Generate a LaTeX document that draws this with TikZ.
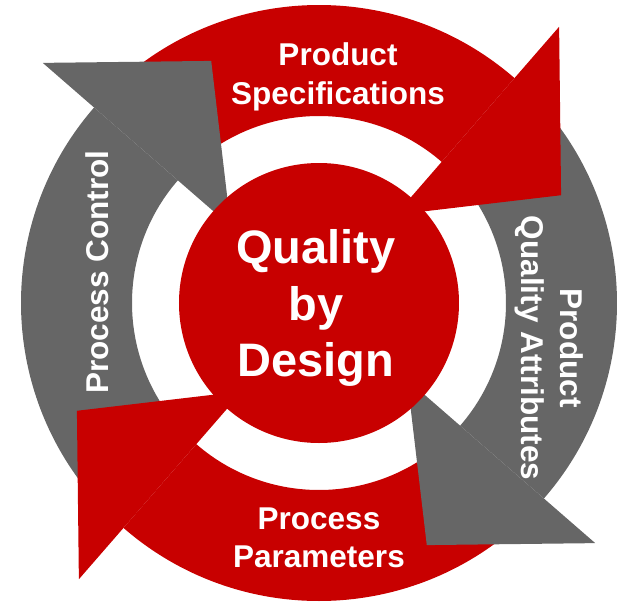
\documentclass[tikz,border=0pt]{standalone}
\usepackage{fontspec}
\setmainfont{Liberation Sans}
\definecolor{qbdred}{RGB}{200,0,0}
\definecolor{qbdgray}{RGB}{102,102,102}

\begin{document}
\begin{tikzpicture}[x=0.025cm,y=0.025cm,
    ringtext/.style={text=white,font=\bfseries\fontsize{22.4}{27.4}\selectfont,align=center,inner sep=0pt},
    hubtext/.style={text=white,font=\bfseries\fontsize{33.4}{40.5}\selectfont,align=center,inner sep=0pt}]
\useasboundingbox (-319,-305) rectangle (301,303);
% bands
\fill[qbdgray] (225:298) arc[start angle=225,end angle=139,radius=298]
  -- (139:187) arc[start angle=139,end angle=225,radius=187] -- cycle;
\fill[qbdred] (135:298) arc[start angle=135,end angle=49,radius=298]
  -- (49:187) arc[start angle=49,end angle=135,radius=187] -- cycle;
\fill[qbdgray] (45:298) arc[start angle=45,end angle=-41,radius=298]
  -- (-41:187) arc[start angle=-41,end angle=45,radius=187] -- cycle;
\fill[qbdred] (-45:298) arc[start angle=-45,end angle=-131,radius=298]
  -- (-131:187) arc[start angle=-131,end angle=-45,radius=187] -- cycle;
% heads
\fill[qbdgray] (139:117) -- (139:366) -- (114:265) -- cycle;
\fill[qbdred] (49:117) -- (49:366) -- (24:265) -- cycle;
\fill[qbdgray] (-41:117) -- (-41:366) -- (-66:265) -- cycle;
\fill[qbdred] (-131:117) -- (-131:366) -- (-156:265) -- cycle;
\fill[qbdred] (0,0) circle[radius=140];
\node[hubtext] (qbd) at (-3,-5) {Quality\\by\\Design};
\node[ringtext] (spec) at (19,226) {Product\\Specifications};
\node[ringtext,rotate=-90] (attr) at (230,-45) {Product\\Quality Attributes};
\node[ringtext] (param) at (0,-235) {Process\\Parameters};
\node[ringtext,rotate=90] (ctrl) at (-222,31) {Process Control};
\end{tikzpicture}
\end{document}
